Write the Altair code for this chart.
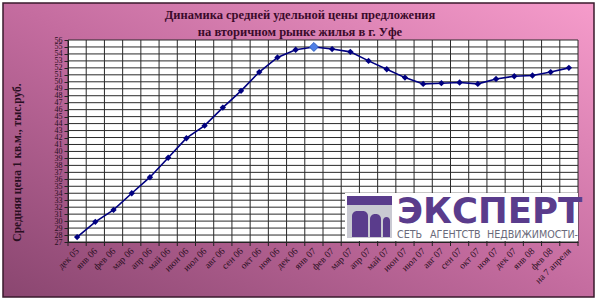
import altair as alt
import pandas as pd

# ---- data ----
months = ["дек 05", "янв 06", "фев 06", "мар 06", "апр 06", "май 06", "июн 06",
          "июл 06", "авг 06", "сен 06", "окт 06", "ноя 06", "дек 06", "янв 07",
          "фев 07", "мар 07", "апр 07", "май 07", "июн 07", "июл 07", "авг 07",
          "сен 07", "окт 07", "ноя 07", "дек 07", "янв 08", "фев 08", "на 7 апреля"]
prices = [27.7, 29.9, 31.6, 34.0, 36.3, 39.1, 41.9, 43.7, 46.3, 48.7, 51.4, 53.5,
          54.6, 55.0, 54.7, 54.3, 53.0, 51.8, 50.6, 49.7, 49.8, 49.9, 49.7, 50.4,
          50.8, 50.9, 51.4, 52.0]
highlight_month = "янв 07"
y_ticks = list(range(27, 57))
title_lines = ["Динамика средней удельной цены предложения",
               "на вторичном рынке жилья в г. Уфе"]
y_title = "Средняя цена 1 кв.м., тыс.руб."
logo_big = "ЭКСПЕРТ"
logo_small_words = ["СЕТЬ", "АГЕНТСТВ", "НЕДВИЖИМОСТИ-"]

# ---- layout ----
TOTAL_W, TOTAL_H = 599, 301
PL, PT = 68, 40
W, H = 510, 202
PR = TOTAL_W - PL - W
PB = TOTAL_H - PT - H

df = pd.DataFrame({"i": list(range(len(months))), "m": months, "v": prices})
bounds = pd.DataFrame({"b": [k - 0.5 for k in range(len(months) + 1)]})
hgrid = pd.DataFrame({"y": y_ticks})
one = pd.DataFrame({"a": [0]})

label_js = "[" + ",".join("'%s'" % m for m in months) + "]"
xscale = alt.Scale(domain=[-0.5, len(months) - 0.5], nice=False, zero=False)
yscale = alt.Scale(domain=[y_ticks[0], y_ticks[-1]], nice=False, zero=False)

TXT = "#2a0f22"
x_axis = alt.Axis(values=list(range(len(months))), labelExpr=label_js + "[datum.value]",
                  labelAngle=315, labelAlign="right", labelBaseline="middle",
                  labelPadding=7, labelFont="Liberation Serif", labelFontSize=9.5,
                  labelColor=TXT, labelOverlap=False, labelFlush=False, labelBound=False,
                  ticks=False, tickSize=0, grid=False, domain=True, domainColor="#222",
                  title=None, zindex=1)
y_axis = alt.Axis(values=y_ticks, labelFont="Liberation Serif", labelFontSize=8,
                  labelColor=TXT, labelOverlap=False, labelFlush=False, labelPadding=2,
                  ticks=True, tickSize=4, tickColor="#222", grid=False, domain=True,
                  domainColor="#222", title=y_title, titleFont="Liberation Serif",
                  titleFontSize=11.5, titleFontWeight="bold", titleColor=TXT,
                  titleX=-51, titleY=122, titleAngle=270, titleBaseline="middle",
                  titleAlign="center", zindex=1)

X = lambda f: alt.X(f, type="quantitative", scale=xscale, axis=x_axis)
Y = lambda f: alt.Y(f, type="quantitative", scale=yscale, axis=y_axis)

bg = alt.Chart(one).mark_rect(
    fill=alt.Gradient(gradient="linear", x1=0, y1=1, x2=1, y2=0,
                      stops=[alt.GradientStop(offset=0, color="#8a4670"),
                             alt.GradientStop(offset=0.5, color="#c46c9f"),
                             alt.GradientStop(offset=1, color="#f69ccb")]),
    stroke="#3a1a2c", strokeWidth=1.5
).encode(x=alt.value(3 - PL), x2=alt.value(594 - PL),
         y=alt.value(3 - PT), y2=alt.value(297 - PT))

plot_bg = alt.Chart(one).mark_rect(fill="white").encode(
    x=alt.value(0), x2=alt.value(W), y=alt.value(0), y2=alt.value(H))

vgrid = alt.Chart(bounds).mark_rule(color="#2a2a2a", strokeWidth=1).encode(x=X("b"))
hlines = alt.Chart(hgrid).mark_rule(color="#2a2a2a", strokeWidth=1).encode(y=Y("y"))
xticks = alt.Chart(bounds).mark_rule(color="#222", strokeWidth=1).encode(
    x=X("b"), y=alt.value(H), y2=alt.value(H + 4))

# title as text marks
titles = []
for k, (t, yb) in enumerate(zip(title_lines, [19, 36])):
    titles.append(alt.Chart(pd.DataFrame({"t": [t]})).mark_text(
        font="Liberation Serif", fontSize=12.5, fontWeight="bold", color="#3a0a2a",
        align="center", baseline="alphabetic").encode(
        text="t:N", x=alt.value(300 - PL), y=alt.value(yb - PT)))

# logo
logo_bg = alt.Chart(one).mark_rect(fill="white").encode(
    x=alt.value(345 - PL), x2=alt.value(W), y=alt.value(193 - PT), y2=alt.value(H - 1))
icon_bg = alt.Chart(one).mark_rect(fill="#c9c9d2").encode(
    x=alt.value(347 - PL), x2=alt.value(392 - PL), y=alt.value(196 - PT), y2=alt.value(238 - PT))
icon_band = alt.Chart(one).mark_rect(fill="#5a3c8c").encode(
    x=alt.value(347 - PL), x2=alt.value(392 - PL), y=alt.value(196 - PT), y2=alt.value(205 - PT))
cols = []
for (a, b, t) in [(352, 368, 211), (370, 381, 214), (383, 390, 217)]:
    cols.append(alt.Chart(one).mark_rect(fill="#5a3c8c", cornerRadiusTopLeft=5,
                                         cornerRadiusTopRight=5).encode(
        x=alt.value(a - PL), x2=alt.value(b - PL), y=alt.value(t - PT), y2=alt.value(237 - PT)))
big_txt = alt.Chart(pd.DataFrame({"t": [logo_big]})).mark_text(
    font="DejaVu Sans", fontWeight="bold", fontSize=35.5, color="#5a3c8c",
    align="left", baseline="alphabetic").encode(
    text="t:N", x=alt.value(397 - PL), y=alt.value(223 - PT))
small_txt = []
for w, xs in zip(logo_small_words, [397, 430, 487]):
    small_txt.append(alt.Chart(pd.DataFrame({"t": [w]})).mark_text(
        font="DejaVu Sans", fontSize=9.6, color="#6a6a7a",
        align="left", baseline="alphabetic").encode(
        text="t:N", x=alt.value(xs - PL), y=alt.value(238 - PT)))

line = alt.Chart(df).mark_line(color="#000080", strokeWidth=1.6).encode(x=X("i"), y=Y("v"))
pts = alt.Chart(df).mark_point(shape="diamond", filled=True, size=40, color="#000080",
                               opacity=1).encode(x=X("i"), y=Y("v"))
hl = alt.Chart(df).transform_filter(alt.datum.m == highlight_month).mark_point(
    shape="diamond", filled=True, size=80, fill="#4f7fe6", stroke="#3060c0",
    strokeWidth=1, opacity=1).encode(x=X("i"), y=Y("v"))

chart = alt.layer(bg, plot_bg, vgrid, hlines, xticks, *titles, logo_bg, icon_bg, icon_band,
                  *cols, big_txt, *small_txt, line, pts, hl).properties(
    width=W, height=H, autosize="none",
    padding={"left": PL, "top": PT, "right": PR, "bottom": PB},
    background="white"
).configure_view(stroke=None)

chart.save("out.html", embed_options={"renderer": "svg", "actions": False})
